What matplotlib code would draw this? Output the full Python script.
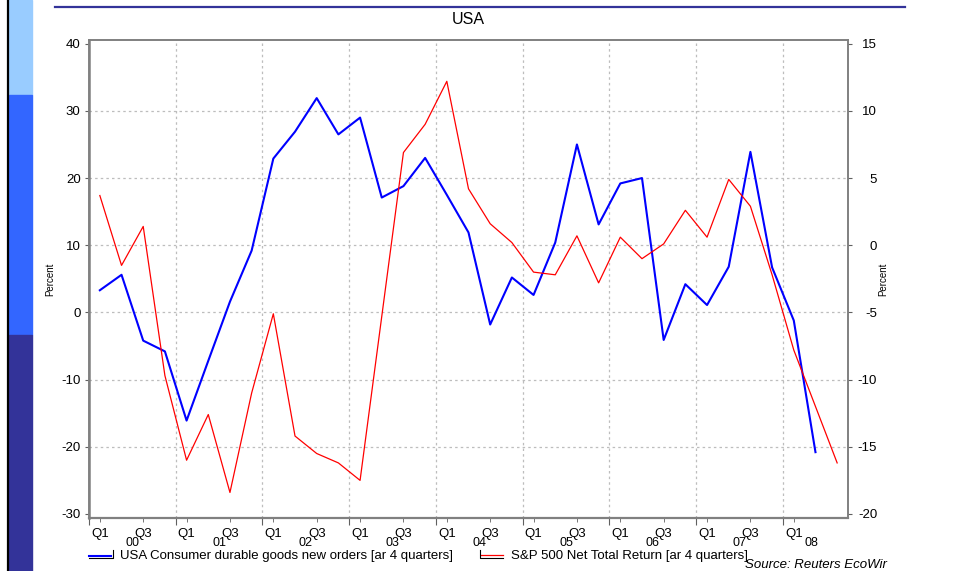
import matplotlib
matplotlib.use("Agg")
import matplotlib.pyplot as plt
import matplotlib.transforms as mtransforms
from matplotlib.lines import Line2D
from matplotlib.patches import Rectangle

plt.rcParams['font.family'] = ['Liberation Sans', 'DejaVu Sans']
plt.rcParams['axes.unicode_minus'] = False

# quarterly values, starting 2000 Q1
durables = [3.3, 5.6, -4.2, -5.8, -16.1, -7.2, 1.6, 9.2, 22.9, 26.9, 31.9, 26.5,
            29.0, 17.1, 18.8, 23.0, 17.5, 11.9, -1.8, 5.2, 2.6, 10.4, 25.0, 13.1,
            19.2, 20.0, -4.1, 4.2, 1.1, 6.8, 23.9, 6.7, -1.2, -20.8]
sp500 = [3.7, -1.5, 1.4, -9.7, -16.0, -12.6, -18.4, -11.0, -5.1, -14.2, -15.5, -16.2,
         -17.5, -5.3, 6.9, 9.0, 12.2, 4.2, 1.6, 0.2, -2.0, -2.2, 0.7, -2.8,
         0.6, -1.0, 0.1, 2.6, 0.6, 4.9, 2.9, -2.2, -7.8, -12.0, -16.2]
years = [2000, 2001, 2002, 2003, 2004, 2005, 2006, 2007, 2008]
year_labels = ['00', '01', '02', '03', '04', '05', '06', '07', '08']
left_ticks = [-30, -20, -10, 0, 10, 20, 30, 40]
right_ticks = [-20, -15, -10, -5, 0, 5, 10, 15]

W, H = 954, 571
fig = plt.figure(figsize=(W / 100, H / 100), dpi=100)

def fx(px):
    return px / W

def fy(py):
    return 1 - py / H

# side bar and top rule
fig.add_artist(Rectangle((fx(9.3), fy(95)), fx(22.7), 95 / H, color='#99ccff', transform=fig.transFigure))
fig.add_artist(Rectangle((fx(9.3), fy(335)), fx(22.7), 240 / H, color='#3366ff', transform=fig.transFigure))
fig.add_artist(Rectangle((fx(9.3), 0), fx(22.7), fy(335), color='#333399', transform=fig.transFigure))
fig.add_artist(Line2D([fx(8.3), fx(8.3)], [0, 1], color='black', lw=1.6, transform=fig.transFigure))
fig.add_artist(Line2D([fx(55), fx(905)], [fy(7), fy(7)], color='#333399', lw=1.6, transform=fig.transFigure))

fig.text(fx(468), fy(20), 'USA', ha='center', va='center', fontsize=11.5)

ax = fig.add_axes([fx(89), fy(518), fx(848 - 89), (518 - 40) / H])
ax2 = ax.twinx()

xq = [2000 + (i + 0.5) / 4 for i in range(len(sp500))]
ax.plot(xq[:len(durables)], durables, color='#0000ff', lw=1.5, zorder=3)
ax2.plot(xq, sp500, color='#ff0000', lw=0.9, zorder=3)

ax.set_xlim(2000, 2008.75)
ax.set_ylim(-30.6, 40.55)
ax2.set_ylim((-30.6 - 10) / 2, (40.55 - 10) / 2)
ax.set_yticks(left_ticks)
ax2.set_yticks(right_ticks)

for a in (ax, ax2):
    for s in a.spines.values():
        s.set_color('#808080')
        s.set_linewidth(1.2)
ax.spines['left'].set_linewidth(1.8)
ax.spines['bottom'].set_linewidth(1.6)

ax.grid(False)
for t in left_ticks[1:-1]:
    ax.axhline(t, color='#bdbdbd', lw=0.9, ls=(0, (2, 2.5)), zorder=1)
for yv in years[1:]:
    ax.axvline(yv, color='#bdbdbd', lw=0.9, ls=(0, (2, 2.5)), zorder=1)

ax.set_xticks(years)
ax.set_xticklabels([])
qpos, qlab = [], []
for yv in years:
    qpos.append(yv + 0.125)
    qlab.append('Q1')
    if yv + 0.625 < 2008.75 - 0.2:
        qpos.append(yv + 0.625)
        qlab.append('Q3')
ax.set_xticks(qpos, minor=True)
ax.set_xticklabels(qlab, minor=True)
ax.tick_params(axis='x', which='major', length=5, color='#606060', direction='out')
ax.tick_params(axis='x', which='minor', length=3, color='#606060', direction='out', labelsize=9.5, pad=4)
ax.tick_params(axis='y', length=3, color='#606060', labelsize=9.5, pad=3)
ax2.tick_params(axis='y', length=3, color='#606060', labelsize=9.5, pad=18)
for lbl in ax2.get_yticklabels():
    lbl.set_horizontalalignment('right')

trans = mtransforms.blended_transform_factory(ax.transData, fig.transFigure)
for yv, lab in zip(years, year_labels):
    mid = yv + 0.5 if yv < 2008 else yv + 0.33
    ax.text(mid, fy(542.5), lab, transform=trans, ha='center', va='center', fontsize=9)

fig.text(fx(50), fy(279), 'Percent', rotation=90, ha='center', va='center', fontsize=7)
fig.text(fx(883), fy(279), 'Percent', rotation=90, ha='center', va='center', fontsize=7)

# legend
fig.add_artist(Line2D([fx(89), fx(111)], [fy(555.5), fy(555.5)], color='#0000ff', lw=1.5, transform=fig.transFigure))
fig.add_artist(Line2D([fx(89), fx(113), fx(113)], [fy(558), fy(558), fy(550)], color='black', lw=0.8, transform=fig.transFigure))
fig.text(fx(120), fy(556), 'USA Consumer durable goods new orders [ar 4 quarters]', ha='left', va='center', fontsize=9.5)
fig.add_artist(Line2D([fx(481), fx(503)], [fy(555), fy(555)], color='#ff0000', lw=0.9, transform=fig.transFigure))
fig.add_artist(Line2D([fx(480), fx(480), fx(503)], [fy(550), fy(558), fy(558)], color='black', lw=0.8, transform=fig.transFigure))
fig.text(fx(511), fy(556), 'S&P 500 Net Total Return [ar 4 quarters]', ha='left', va='center', fontsize=9.5)

fig.text(fx(745), fy(564.5), 'Source: Reuters EcoWir', ha='left', va='center', fontsize=9.5, style='italic')

fig.savefig('out.png', dpi=100)
